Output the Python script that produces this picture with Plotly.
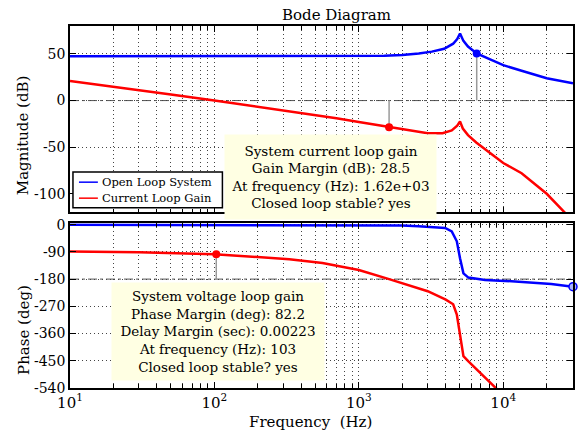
import plotly.graph_objects as go

# ---- magnitude data (Hz, dB) ----
ol_mag_f = [10, 100, 1000, 1500, 2000, 2600, 3200, 3900, 4500, 4800, 5020, 5300, 5700, 6550, 7900, 10000, 13400, 20000, 30400]
ol_mag_db = [47.5, 47.5, 47.6, 48, 49, 50.5, 52.5, 55.5, 61, 66, 72, 64, 58, 50.5, 45, 38, 32, 24, 18.5]

cl_mag_f = [10, 20, 50, 100, 200, 400, 700, 1000, 1620, 2200, 3000, 3800, 4400, 4800, 5020, 5250, 5700, 6500, 8000, 10000, 13400, 20000, 27000]
cl_mag_db = [21, 15, 6.5, 0, -6.5, -13, -19, -23, -28.5, -32, -35, -35, -32, -27, -22.5, -30, -37, -45, -56, -67, -78, -100, -121]

# ---- phase data (Hz, deg) ----
ol_ph_f = [10, 1000, 2000, 2590, 3960, 4400, 4770, 5020, 5300, 5740, 7480, 10300, 21500, 30400]
ol_ph_deg = [0, -1.5, -3, -5.5, -11, -22, -55, -111, -161, -175, -183, -186, -196, -205]

cl_ph_f = [10, 30, 100, 200, 330, 560, 1000, 1620, 2000, 3000, 4000, 4500, 4770, 5020, 5300, 5740, 7100, 9100]
cl_ph_deg = [-88.5, -91, -97.8, -106, -114, -127, -150, -180, -194, -220, -248, -263, -297, -368, -435, -452, -494, -545]

# ---- margin markers ----
gm_freq, gm_db = 1620, -28.5          # gain margin point on current loop gain
ol_mark_freq, ol_mark_db = 6550, 50.5  # marker on open loop magnitude
pm_freq, pm_deg = 103, -97.8           # phase margin point on current loop gain
ol_ph_mark_freq, ol_ph_mark_deg = 30400, -205

# ---- tick labels ----
mag_ticks = [-100, -50, 0, 50]
mag_ticklabels = ["-100", "-50", "0", "50"]
ph_ticks = [-540, -450, -360, -270, -180, -90, 0]
ph_ticklabels = ["-540", "-450", "-360", "-270", "-180", "-90", "0"]
freq_ticks = [10, 100, 1000, 10000]
freq_ticklabels = ["10<sup>1</sup>", "10<sup>2</sup>", "10<sup>3</sup>", "10<sup>4</sup>"]

series_names = ["Open Loop System", "Current Loop Gain"]

gm_text = "System current loop gain<br>Gain Margin (dB): 28.5<br>At frequency (Hz): 1.62e+03<br>Closed loop stable? yes"
pm_text = ("System voltage loop gain<br>Phase Margin (deg): 82.2<br>Delay Margin (sec): 0.00223"
           "<br>At frequency (Hz): 103<br>Closed loop stable? yes")

FONT = "DejaVu Serif"
BLUE = "#0000FF"
RED = "#FF0000"
GREY = "#9a9a9a"
BOX = "#FFFFE3"
GRID = "#444444"
colors = [BLUE, RED]

fig = go.Figure()

# magnitude curves
fig.add_trace(go.Scatter(x=ol_mag_f, y=ol_mag_db, mode="lines", name=series_names[0],
                         line=dict(color=BLUE, width=2.5), xaxis="x", yaxis="y"))
fig.add_trace(go.Scatter(x=cl_mag_f, y=cl_mag_db, mode="lines", name=series_names[1],
                         line=dict(color=RED, width=2.5), xaxis="x", yaxis="y"))

# phase curves
fig.add_trace(go.Scatter(x=ol_ph_f, y=ol_ph_deg, mode="lines", name=series_names[0],
                         line=dict(color=BLUE, width=2.5), xaxis="x2", yaxis="y2"))
fig.add_trace(go.Scatter(x=cl_ph_f, y=cl_ph_deg, mode="lines", name=series_names[1],
                         line=dict(color=RED, width=2.5), xaxis="x2", yaxis="y2"))

# stems from margin points to reference lines
fig.add_trace(go.Scatter(x=[gm_freq, gm_freq], y=[gm_db, 0], mode="lines",
                         line=dict(color=GREY, width=1.5), xaxis="x", yaxis="y"))
fig.add_trace(go.Scatter(x=[ol_mark_freq, ol_mark_freq], y=[ol_mark_db, 0], mode="lines",
                         line=dict(color=GREY, width=1.5), xaxis="x", yaxis="y"))
fig.add_trace(go.Scatter(x=[pm_freq, pm_freq], y=[pm_deg, -180], mode="lines",
                         line=dict(color=GREY, width=1.5), xaxis="x2", yaxis="y2"))

# margin markers
fig.add_trace(go.Scatter(x=[gm_freq], y=[gm_db], mode="markers",
                         marker=dict(color=RED, size=8), xaxis="x", yaxis="y"))
fig.add_trace(go.Scatter(x=[ol_mark_freq], y=[ol_mark_db], mode="markers",
                         marker=dict(color=BLUE, size=8), xaxis="x", yaxis="y"))
fig.add_trace(go.Scatter(x=[pm_freq], y=[pm_deg], mode="markers",
                         marker=dict(color=RED, size=8), xaxis="x2", yaxis="y2"))
fig.add_trace(go.Scatter(x=[ol_ph_mark_freq], y=[ol_ph_mark_deg], mode="markers",
                         marker=dict(color="#aab4ff", size=8, line=dict(color=BLUE, width=1.5)),
                         xaxis="x2", yaxis="y2", cliponaxis=False))

# dash-dot reference lines at 0 dB and -180 deg
fig.add_shape(type="line", xref="x domain", yref="y", x0=0, x1=1, y0=0, y1=0,
              line=dict(color="#555555", width=1, dash="dashdot"), layer="below")
fig.add_shape(type="line", xref="x2 domain", yref="y2", x0=0, x1=1, y0=-180, y1=-180,
              line=dict(color="#555555", width=1, dash="dashdot"), layer="below")

minor_vals = [m * 10 ** d for d in range(1, 5) for m in range(2, 10)]

xcommon = dict(type="log", range=[1, 4.483], showline=True, linecolor="black", linewidth=1.5,
               mirror="ticks", ticks="inside", ticklen=6, tickcolor="black",
               tickvals=freq_ticks, ticktext=freq_ticklabels,
               showgrid=True, gridcolor=GRID, griddash="1px,3px", gridwidth=1,
               minor=dict(tickvals=minor_vals, ticks="inside", ticklen=4, tickcolor="black",
                          showgrid=True, gridcolor=GRID, griddash="1px,3px", gridwidth=1),
               tickfont=dict(family=FONT, size=15, color="black"), zeroline=False)

ycommon = dict(showline=True, linecolor="black", linewidth=1.5, mirror="ticks", ticks="inside",
               ticklen=6, tickcolor="black", showgrid=True, gridcolor=GRID, griddash="1px,3px",
               gridwidth=1, zeroline=False, tickfont=dict(family=FONT, size=14, color="black"))

fig.update_layout(
    width=581, height=434,
    margin=dict(l=70, r=6, t=26, b=46),
    paper_bgcolor="white", plot_bgcolor="white",
    font=dict(family=FONT, size=14, color="black"),
    xaxis=dict(xcommon, anchor="y", domain=[0, 1], showticklabels=False, matches="x2"),
    xaxis2=dict(xcommon, anchor="y2", domain=[0, 1]),
    yaxis=dict(ycommon, anchor="x", domain=[0.485, 1], range=[-120, 80],
               tickvals=mag_ticks, ticktext=mag_ticklabels),
    yaxis2=dict(ycommon, anchor="x2", domain=[0, 0.4554], range=[-540, 5],
                tickvals=ph_ticks, ticktext=ph_ticklabels),
    showlegend=False,
)

# compact legend box in the lower-left corner of the magnitude panel
fig.add_shape(type="rect", xref="paper", yref="paper", x0=0.0059, x1=0.3030, y0=0.4977, y1=0.5970,
              fillcolor="white", line=dict(color="black", width=1.5), layer="above")
legend_rows = [0.5686, 0.5244]
for name, col, yy in zip(series_names, colors, legend_rows):
    fig.add_shape(type="line", xref="paper", yref="paper", x0=0.0178, x1=0.0554, y0=yy, y1=yy,
                  line=dict(color=col, width=1.5), layer="above")
    fig.add_annotation(text=name, xref="paper", yref="paper", x=0.0594, y=yy, xanchor="left",
                       yanchor="middle", showarrow=False, font=dict(family=FONT, size=11.5, color="black"))

ann_font = dict(family=FONT, size=13.5, color="black")
fig.add_annotation(text=gm_text, xref="paper", yref="paper", x=0.5178, y=0.5832,
                   xanchor="center", yanchor="middle", width=211, height=84, borderpad=0,
                   bgcolor=BOX, showarrow=False, align="center", valign="middle", font=ann_font)
fig.add_annotation(text=pm_text, xref="paper", yref="paper", x=0.295, y=0.1554,
                   xanchor="center", yanchor="middle", width=212, height=97, borderpad=0,
                   bgcolor=BOX, showarrow=False, align="center", valign="middle", font=ann_font)

# titles
lab_font = dict(family=FONT, size=15, color="black")
fig.add_annotation(text="Bode Diagram", xref="paper", yref="paper", x=0.5307, y=1.031,
                   showarrow=False, xanchor="center", yanchor="middle", font=lab_font)
fig.add_annotation(text="Magnitude (dB)", xref="paper", yref="paper", x=-0.093, y=0.699,
                   showarrow=False, textangle=-90, xanchor="center", yanchor="middle", font=lab_font)
fig.add_annotation(text="Phase (deg)", xref="paper", yref="paper", x=-0.093, y=0.161,
                   showarrow=False, textangle=-90, xanchor="center", yanchor="middle", font=lab_font)
fig.add_annotation(text="Frequency\u00a0 (Hz)", xref="paper", yref="paper", x=0.4786, y=-0.0938,
                   showarrow=False, xanchor="center", yanchor="middle", font=lab_font)

fig.write_html("out.html")
